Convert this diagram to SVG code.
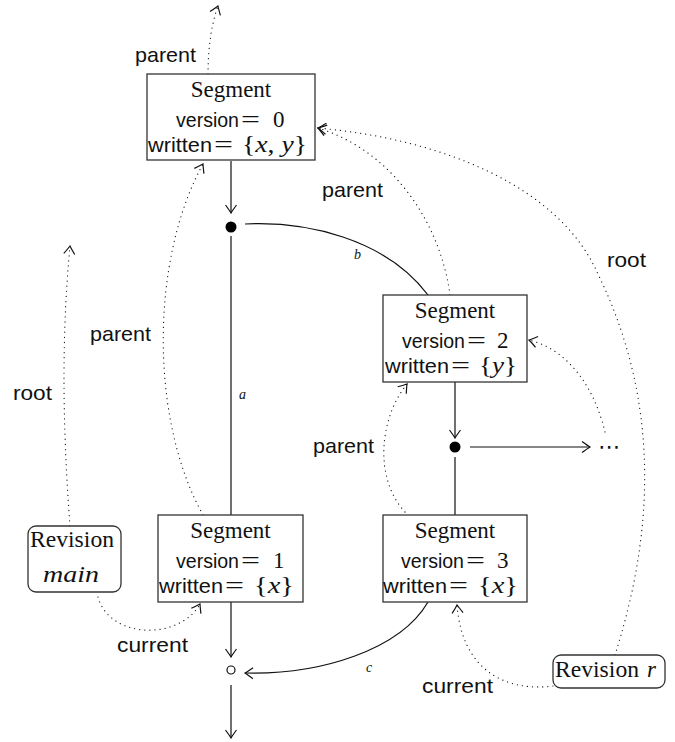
<svg xmlns="http://www.w3.org/2000/svg" width="675" height="742" viewBox="0 0 675 742">
<style>
.box{fill:#fff;stroke:#333;stroke-width:1.3}
.serif{font-family:"Liberation Serif","Times New Roman",serif;font-size:23px;fill:#111}
.sans{font-family:"Liberation Sans",Arial,sans-serif;font-size:21px;fill:#111}
.ver{font-size:19.6px}
.it{font-style:italic}
.small{font-family:"Liberation Serif","Times New Roman",serif;font-style:italic;font-size:14px;fill:#111}
.solid{fill:none;stroke:#111;stroke-width:1.2}
.dot{fill:none;stroke:#111;stroke-width:1.2;stroke-dasharray:0.1 5;stroke-linecap:round}
</style>
<defs>
<marker id="tip" markerUnits="userSpaceOnUse" markerWidth="20" markerHeight="20" viewBox="-10 -10 20 20" refX="0" refY="0" orient="auto">
<path d="M-8,-5.5 Q-2.5,-1.5 0,0 Q-2.5,1.5 -8,5.5" fill="none" stroke="#111" stroke-width="1.2" stroke-dasharray="none"/>
</marker>
</defs>

<g id="connectors">
<line class="solid" x1="231" y1="161" x2="231" y2="213" marker-end="url(#tip)"/>
<circle cx="231" cy="227" r="5.5" fill="#000"/>
<line class="solid" x1="231" y1="236" x2="231" y2="515"/>
<path class="solid" d="M245,224 C305,221 385,238 428,295"/>
<line class="solid" x1="455" y1="382" x2="455" y2="438" marker-end="url(#tip)"/>
<circle cx="455" cy="447" r="5.5" fill="#000"/>
<line class="solid" x1="470" y1="447" x2="590" y2="447" marker-end="url(#tip)"/>
<line class="solid" x1="455" y1="457" x2="455" y2="515"/>
<line class="solid" x1="231" y1="602" x2="231" y2="657" marker-end="url(#tip)"/>
<circle cx="231" cy="670" r="4" fill="#fff" stroke="#111" stroke-width="1.2"/>
<line class="solid" x1="231" y1="685" x2="231" y2="738" marker-end="url(#tip)"/>
<path class="solid" d="M428,602 C400,650 320,675 245,673" marker-end="url(#tip)"/>
<path class="dot" d="M208,74 C208,50 211,25 218,6" marker-end="url(#tip)"/>
<path class="dot" d="M203,515 C150,420 150,260 203,164" marker-end="url(#tip)"/>
<path class="dot" d="M70,526 C62,420 62,330 70,246" marker-end="url(#tip)"/>
<path class="dot" d="M98,597 C110,640 180,640 200,604" marker-end="url(#tip)"/>
<path class="dot" d="M450,295 C440,220 390,150 318,128" marker-end="url(#tip)"/>
<path class="dot" d="M615,655 C645,560 670,420 597,272 C560,190 450,140 318,128" marker-end="url(#tip)"/>
<path class="dot" d="M605,432 C595,390 570,350 529,340" marker-end="url(#tip)"/>
<path class="dot" d="M405,512 C375,480 378,420 407,384" marker-end="url(#tip)"/>
<path class="dot" d="M553,686 C505,692 462,670 457,605" marker-end="url(#tip)"/>
<text class="sans" x="135" y="62" textLength="61" lengthAdjust="spacingAndGlyphs">parent</text>
<text class="sans" x="90" y="341" textLength="61" lengthAdjust="spacingAndGlyphs">parent</text>
<text class="sans" x="13" y="400" textLength="39" lengthAdjust="spacingAndGlyphs">root</text>
<text class="sans" x="322" y="197" textLength="61" lengthAdjust="spacingAndGlyphs">parent</text>
<text class="sans" x="607" y="267" textLength="39" lengthAdjust="spacingAndGlyphs">root</text>
<text class="sans" x="313" y="453" textLength="61" lengthAdjust="spacingAndGlyphs">parent</text>
<text class="sans" x="117" y="652" textLength="71" lengthAdjust="spacingAndGlyphs">current</text>
<text class="sans" x="422" y="693" textLength="71" lengthAdjust="spacingAndGlyphs">current</text>
<text class="small" x="239" y="399">a</text>
<text class="small" x="354" y="259">b</text>
<text class="small" x="366" y="672">c</text>
<text x="609" y="454" text-anchor="middle" font-family="DejaVu Sans, sans-serif" font-size="22" fill="#111">⋯</text>
</g>

<g id="seg0">
<rect class="box" x="147" y="74" width="168" height="86"/>
<text class="serif" x="231" y="97" text-anchor="middle">Segment</text>
<text class="sans ver" x="176" y="127" textLength="63" lengthAdjust="spacingAndGlyphs">version</text>
<text class="serif" x="241" y="127" textLength="19" lengthAdjust="spacingAndGlyphs">=</text>
<text class="serif" x="273" y="127">0</text>
<text class="sans" x="148" y="152" textLength="64" lengthAdjust="spacingAndGlyphs">written</text>
<text class="serif" x="214" y="152" textLength="19" lengthAdjust="spacingAndGlyphs">=</text>
<text class="serif" x="242" y="152" textLength="65" lengthAdjust="spacingAndGlyphs">{<tspan class="it">x</tspan>, <tspan class="it">y</tspan>}</text>
</g>

<g id="seg1">
<rect class="box" x="158" y="515" width="145" height="87"/>
<text class="serif" x="230.5" y="538" text-anchor="middle">Segment</text>
<text class="sans ver" x="176" y="568" textLength="63" lengthAdjust="spacingAndGlyphs">version</text>
<text class="serif" x="241" y="568" textLength="19" lengthAdjust="spacingAndGlyphs">=</text>
<text class="serif" x="273" y="568">1</text>
<text class="sans" x="159" y="593" textLength="64" lengthAdjust="spacingAndGlyphs">written</text>
<text class="serif" x="225" y="593" textLength="19" lengthAdjust="spacingAndGlyphs">=</text>
<text class="serif" x="254" y="593" textLength="40" lengthAdjust="spacingAndGlyphs">{<tspan class="it">x</tspan>}</text>
</g>

<g id="seg2">
<rect class="box" x="383" y="295" width="144" height="87"/>
<text class="serif" x="455" y="318" text-anchor="middle">Segment</text>
<text class="sans ver" x="402" y="348" textLength="63" lengthAdjust="spacingAndGlyphs">version</text>
<text class="serif" x="467" y="348" textLength="19" lengthAdjust="spacingAndGlyphs">=</text>
<text class="serif" x="497" y="348">2</text>
<text class="sans" x="385" y="373" textLength="64" lengthAdjust="spacingAndGlyphs">written</text>
<text class="serif" x="451" y="373" textLength="19" lengthAdjust="spacingAndGlyphs">=</text>
<text class="serif" x="479" y="373" textLength="38" lengthAdjust="spacingAndGlyphs">{<tspan class="it">y</tspan>}</text>
</g>

<g id="seg3">
<rect class="box" x="383" y="515" width="144" height="87"/>
<text class="serif" x="455" y="538" text-anchor="middle">Segment</text>
<text class="sans ver" x="401" y="568" textLength="63" lengthAdjust="spacingAndGlyphs">version</text>
<text class="serif" x="466" y="568" textLength="19" lengthAdjust="spacingAndGlyphs">=</text>
<text class="serif" x="497" y="568">3</text>
<text class="sans" x="383" y="593" textLength="64" lengthAdjust="spacingAndGlyphs">written</text>
<text class="serif" x="449" y="593" textLength="19" lengthAdjust="spacingAndGlyphs">=</text>
<text class="serif" x="478" y="593" textLength="40" lengthAdjust="spacingAndGlyphs">{<tspan class="it">x</tspan>}</text>
</g>

<g id="revmain">
<rect class="box" x="28" y="526" width="93" height="66" rx="8"/>
<text class="serif" x="30" y="547" textLength="84" lengthAdjust="spacingAndGlyphs">Revision</text>
<text class="serif it" x="43" y="582" textLength="56" lengthAdjust="spacingAndGlyphs">main</text>
</g>

<g id="revr">
<rect class="box" x="553" y="655" width="112" height="33" rx="8"/>
<text class="serif" x="555" y="677" textLength="84" lengthAdjust="spacingAndGlyphs">Revision</text>
<text class="serif it" x="647" y="677">r</text>
</g>
</svg>
